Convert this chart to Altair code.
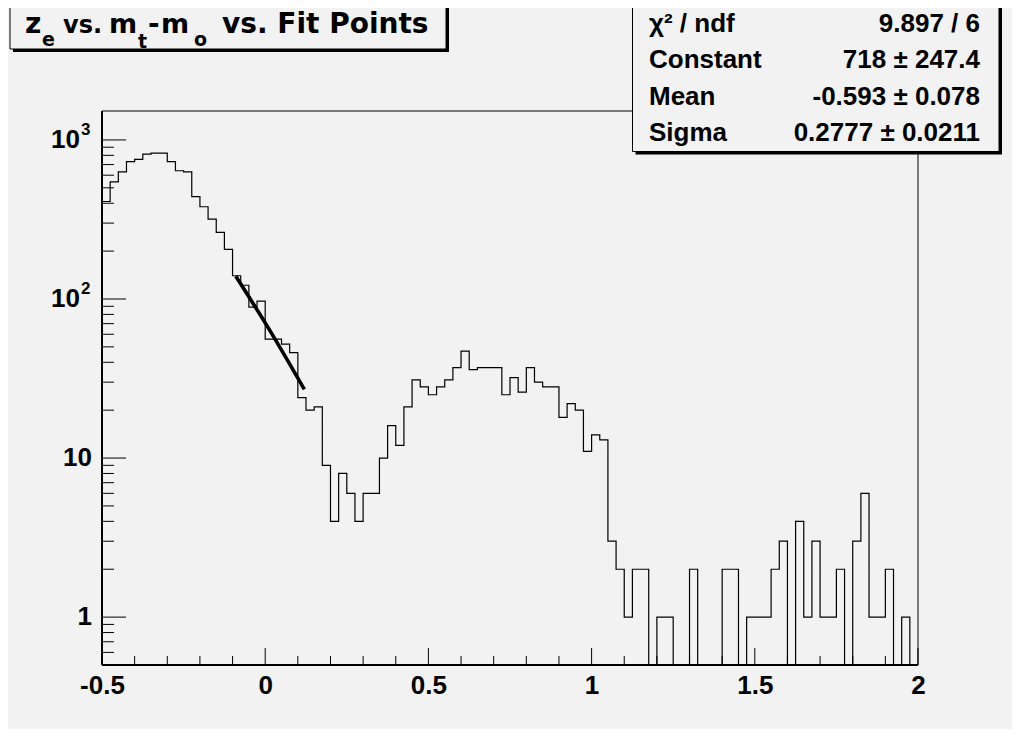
import altair as alt
import pandas as pd

# ---------------- data ----------------
bin_low = -0.5
bin_width = 0.025
counts = [410, 545, 630, 730, 755, 815, 825, 825, 730, 640,
          630, 440, 380, 318, 262, 205, 140, 122, 89, 97,
          56, 56, 52, 46, 24, 20, 21, 9, 4, 8,
          6, 4, 6, 6, 10, 16, 12, 21, 31, 28,
          25, 28, 31, 37, 47, 36, 37, 37, 37, 25,
          32, 26, 37, 30, 28, 28, 18, 22, 20, 11,
          14, 13, 3, 2, 1, 2, 2, 0, 1, 1,
          0, 0, 2, 0, 0, 0, 2, 2, 0, 1,
          1, 1, 2, 3, 0, 4, 1, 3, 1, 1,
          2, 0, 3, 6, 1, 1, 2, 0, 1, 0]

fit_x = [-0.09, 0.015, 0.12]
fit_y = [139, 63, 27]

x_major = [-0.5, 0, 0.5, 1, 1.5, 2]
x_minor = [-0.4, -0.3, -0.2, -0.1, 0.1, 0.2, 0.3, 0.4, 0.6, 0.7, 0.8, 0.9,
           1.1, 1.2, 1.3, 1.4, 1.6, 1.7, 1.8, 1.9]
y_major = [1, 10, 100, 1000]
y_label_base = ["1", "10", "10", "10"]
y_label_sup = ["", "", "2", "3"]
y_minor = [0.6, 0.7, 0.8, 0.9, 2, 3, 4, 5, 6, 7, 8, 9,
           20, 30, 40, 50, 60, 70, 80, 90, 200, 300, 400, 500, 600, 700, 800, 900]

stats_names = ["χ² / ndf", "Constant", "Mean", "Sigma"]
stats_values = ["9.897 / 6", "718 ± 247.4", "-0.593 ± 0.078", "0.2777 ± 0.0211"]

# ---------------- layout / style ----------------
W, H = 816, 554
BG = "#f2f2f2"
LABEL_FONT = "Liberation Sans"
TITLE_FONT = "DejaVu Sans"

xscale = alt.Scale(domain=[-0.5, 2], nice=False, zero=False)
yscale = alt.Scale(type="log", domain=[0.5, 1520], nice=False)

x_axis = alt.Axis(values=x_major, labelExpr="'' + datum.value",
                  ticks=False, tickSize=0, domain=False, grid=False, title=None,
                  labelFont=LABEL_FONT, labelFontSize=26, labelFontWeight="bold",
                  labelColor="black", labelBaseline="alphabetic", labelPadding=28,
                  labelFlush=False, labelOverlap=False)
y_axis = alt.Axis(values=y_major, labels=False, ticks=False, tickSize=0,
                  domain=False, grid=False, title=None)

# histogram step outline (zero bins drop below the frame and are clipped)
edges = [bin_low + i * bin_width for i in range(len(counts) + 1)]
vals = [c if c > 0 else 0.2 for c in counts]
vals = vals + [vals[-1]]
hist_df = pd.DataFrame({"v": edges, "w": vals})

hist = alt.Chart(hist_df).mark_line(
    interpolate="step-after", color="black", strokeWidth=1.2, clip=True
).encode(
    x=alt.X("v:Q", scale=xscale, axis=x_axis),
    y=alt.Y("w:Q", scale=yscale, axis=y_axis),
)

fit_df = pd.DataFrame({"v": fit_x, "w": fit_y})
fit = alt.Chart(fit_df).mark_line(color="black", strokeWidth=3.6, clip=True,
                                  interpolate="monotone").encode(
    x=alt.X("v:Q", scale=xscale, axis=x_axis),
    y=alt.Y("w:Q", scale=yscale, axis=y_axis),
)

def xticks(values, length):
    return alt.Chart(pd.DataFrame({"v": values})).mark_rule(color="black", strokeWidth=1).encode(
        x=alt.X("v:Q", scale=xscale, axis=x_axis),
        y=alt.value(H), y2=alt.value(H - length),
    )

def yticks(values, length):
    return alt.Chart(pd.DataFrame({"w": values})).mark_rule(color="black", strokeWidth=1).encode(
        y=alt.Y("w:Q", scale=yscale, axis=y_axis),
        x=alt.value(0), x2=alt.value(length),
    )

# y tick labels with real superscripts
ylab_df = pd.DataFrame({"w": y_major, "base": y_label_base, "sup": y_label_sup})
ylab_plain = alt.Chart(ylab_df).transform_filter("datum.sup == ''").mark_text(
    align="right", baseline="middle", font=LABEL_FONT, fontSize=26,
    fontWeight="bold", color="black"
).encode(y=alt.Y("w:Q", scale=yscale, axis=y_axis), x=alt.value(-10), text="base:N")
ylab_pow_base = alt.Chart(ylab_df).transform_filter("datum.sup != ''").mark_text(
    align="right", baseline="middle", font=LABEL_FONT, fontSize=26,
    fontWeight="bold", color="black"
).encode(y=alt.Y("w:Q", scale=yscale, axis=y_axis), x=alt.value(-22), text="base:N")
ylab_pow_sup = alt.Chart(ylab_df).transform_filter("datum.sup != ''").mark_text(
    align="left", baseline="middle", font=LABEL_FONT, fontSize=17,
    fontWeight="bold", color="black", dy=-10, dx=1
).encode(y=alt.Y("w:Q", scale=yscale, axis=y_axis), x=alt.value(-22), text="sup:N")

one = pd.DataFrame({"k": [0]})

def rect(x1, y1, x2, y2, fill, stroke=None, sw=1.0, fill_opacity=1.0):
    kw = dict(fill=fill, fillOpacity=fill_opacity)
    if stroke is not None:
        kw.update(stroke=stroke, strokeWidth=sw)
    else:
        kw.update(strokeWidth=0)
    return alt.Chart(one).mark_rect(**kw).encode(
        x=alt.value(x1), x2=alt.value(x2), y=alt.value(y1), y2=alt.value(y2)
    )

def rule(x1, y1, x2, y2, sw):
    return alt.Chart(one).mark_rule(color="black", strokeWidth=sw).encode(
        x=alt.value(x1), x2=alt.value(x2), y=alt.value(y1), y2=alt.value(y2)
    )

def text(txt, x, y, size, align="left", font=LABEL_FONT, weight="bold"):
    return alt.Chart(one).mark_text(
        text=txt, align=align, baseline="alphabetic", font=font,
        fontSize=size, fontWeight=weight, color="black"
    ).encode(x=alt.value(x), y=alt.value(y))

frame = rect(0, 0, W, H, "white", stroke="black", sw=1, fill_opacity=0)
left_axis = rule(0, 0, 0, H, 2)
bottom_axis = rule(0, H, W, H, 2)

# title box (plot-relative pixel coordinates)
tx1, ty1, tx2, ty2 = -92, -108, 344, -62
MAIN_Y, SUB_Y = -78, -65
title_layers = [
    rect(tx1 + 3, ty1 + 3, tx2 + 3, ty2 + 3, "black"),
    rect(tx1, ty1, tx2, ty2, BG, stroke="black", sw=1),
    text("z", -77, MAIN_Y, 28, font=TITLE_FONT),
    text("e", -60, SUB_Y, 19, font=TITLE_FONT),
    text("vs.", -39, MAIN_Y, 24, font=TITLE_FONT),
    text("m", 7, MAIN_Y, 27, font=TITLE_FONT),
    text("t", 36, SUB_Y + 2, 19, font=TITLE_FONT),
    text("-", 46, MAIN_Y, 28, font=TITLE_FONT),
    text("m", 59, MAIN_Y, 27, font=TITLE_FONT),
    text("o", 92, SUB_Y, 19, font=TITLE_FONT),
    text("vs. Fit Points", 120, MAIN_Y, 28, font=TITLE_FONT),
]

# stats box
sx1, sy1, sx2, sy2 = 530.5, -109, 897, 40.5
stats_layers = [
    rect(sx1 + 3, sy1 + 3, sx2 + 3, sy2 + 3, "black"),
    rect(sx1, sy1, sx2, sy2, BG, stroke="black", sw=1),
]
for i, (nm, vv) in enumerate(zip(stats_names, stats_values)):
    yb = -79.5 + 36.5 * i
    stats_layers.append(text(nm, 547, yb, 26))
    stats_layers.append(text(vv, 878, yb, 26, align="right"))

chart = alt.layer(
    hist, fit,
    xticks(x_major, 17), xticks(x_minor, 9),
    yticks(y_major, 24), yticks(y_minor, 12),
    ylab_plain, ylab_pow_base, ylab_pow_sup,
    frame, left_axis, bottom_axis,
    *title_layers, *stats_layers,
).properties(
    width=W, height=H,
    autosize=alt.AutoSizeParams(type="none"),
    padding={"left": 94, "top": 103, "right": 94, "bottom": 64},
).configure(background=BG).configure_view(stroke=None)

chart.save("out.html", embed_options={"renderer": "svg", "actions": False})
